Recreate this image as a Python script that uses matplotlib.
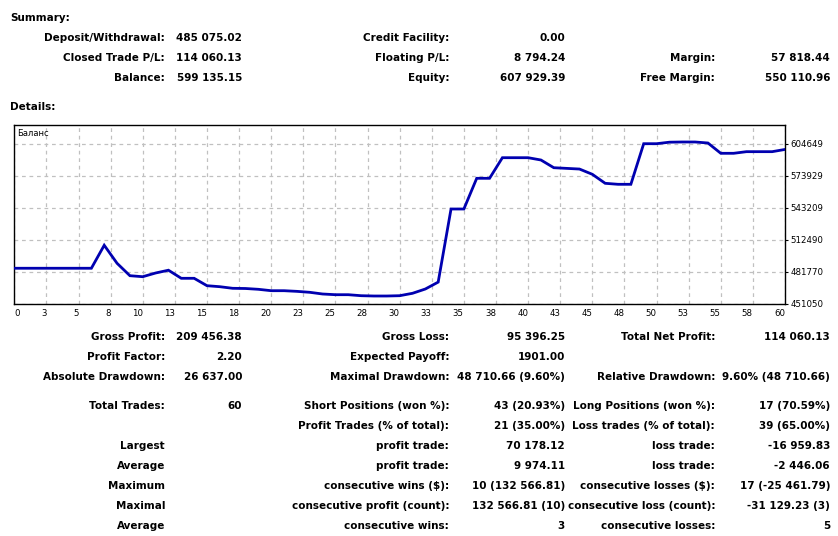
import numpy as np
import matplotlib.pyplot as plt
from matplotlib.ticker import FixedLocator, FixedFormatter

# balance after each closed trade (trade 0 = starting deposit)
balance = [485075, 485075, 485075, 485075, 485075, 485075, 485075, 507149,
           489840, 477930, 476970, 480520, 483200, 475430, 475430, 468330,
           467370, 465830, 465640, 464870, 463530, 463530, 462900, 461990,
           460360, 459690, 459690, 458730, 458438, 458438, 458730, 461030,
           465160, 471782, 541960, 541960, 571430, 571430, 591210, 591210,
           591210, 589000, 581600, 580960, 580320, 575270, 566630, 565670,
           565670, 604650, 604650, 606090, 606290, 606290, 605320, 595430,
           595430, 597000, 597000, 597000, 599135]

y_ticks = [451050, 481770, 512490, 543209, 573929, 604649]
x_grid = list(np.arange(0, 60.1, 2.5))
x_labels = ['0', '3', '5', '8', '10', '13', '15', '18', '20', '23', '25', '28',
            '30', '33', '35', '38', '40', '43', '45', '48', '50', '53', '55',
            '58', '60']

summary_rows = [
    ('Deposit/Withdrawal:', '485 075.02', 'Credit Facility:', '0.00', '', ''),
    ('Closed Trade P/L:', '114 060.13', 'Floating P/L:', '8 794.24', 'Margin:', '57 818.44'),
    ('Balance:', '599 135.15', 'Equity:', '607 929.39', 'Free Margin:', '550 110.96'),
]
detail_rows = [
    ('Gross Profit:', '209 456.38', 'Gross Loss:', '95 396.25', 'Total Net Profit:', '114 060.13'),
    ('Profit Factor:', '2.20', 'Expected Payoff:', '1901.00', '', ''),
    ('Absolute Drawdown:', '26 637.00', 'Maximal Drawdown:', '48 710.66 (9.60%)',
     'Relative Drawdown:', '9.60% (48 710.66)'),
    ('Total Trades:', '60', 'Short Positions (won %):', '43 (20.93%)',
     'Long Positions (won %):', '17 (70.59%)'),
    ('', '', 'Profit Trades (% of total):', '21 (35.00%)',
     'Loss trades (% of total):', '39 (65.00%)'),
    ('Largest', '', 'profit trade:', '70 178.12', 'loss trade:', '-16 959.83'),
    ('Average', '', 'profit trade:', '9 974.11', 'loss trade:', '-2 446.06'),
    ('Maximum', '', 'consecutive wins ($):', '10 (132 566.81)',
     'consecutive losses ($):', '17 (-25 461.79)'),
    ('Maximal', '', 'consecutive profit (count):', '132 566.81 (10)',
     'consecutive loss (count):', '-31 129.23 (3)'),
    ('Average', '', 'consecutive wins:', '3', 'consecutive losses:', '5'),
]

W, H = 838, 536
plt.rcParams['font.family'] = 'DejaVu Sans'
fig = plt.figure(figsize=(W / 100, H / 100), dpi=100)
fig.patch.set_facecolor('white')


def put(x, y, s, ha='right', bold=True, size=7.5):
    fig.text(x / W, 1 - y / H, s, ha=ha, va='center', size=size,
             weight='bold' if bold else 'normal', color='black')


col_x = [165, 242, 449, 565, 715, 830]

put(10, 18, 'Summary:', ha='left')
for row, y in zip(summary_rows, [38, 58, 78]):
    for s, x in zip(row, col_x):
        if s:
            put(x, y, s)

put(10, 107, 'Details:', ha='left')
for row, y in zip(detail_rows, [337, 357, 377, 406, 426, 446, 466, 486, 506, 526]):
    for s, x in zip(row, col_x):
        if s:
            put(x, y, s)

# balance chart
left, right, top, bottom = 14.3, 785, 125.3, 303.7
ax = fig.add_axes([left / W, 1 - bottom / H, (right - left) / W, (bottom - top) / H])
trades = np.arange(len(balance))
ax.plot(trades, balance, color='#0000B0', lw=2, solid_joinstyle='miter', zorder=3)
ax.set_xlim(0, 60)
step = y_ticks[1] - y_ticks[0]
ax.set_ylim(y_ticks[0], y_ticks[0] + step * (bottom - top) / 32.0)

ax.xaxis.set_major_locator(FixedLocator(x_grid))
ax.xaxis.set_major_formatter(FixedFormatter(x_labels))
ax.yaxis.set_major_locator(FixedLocator(y_ticks))
ax.yaxis.set_major_formatter(FixedFormatter([str(v) for v in y_ticks]))
ax.yaxis.tick_right()
ax.tick_params(axis='x', length=0, pad=4, labelsize=6.2)
ax.tick_params(axis='y', length=2, width=0.8, pad=2, labelsize=6.2)
for i, lab in enumerate(ax.get_xticklabels()):
    lab.set_ha('left' if i == 0 else 'right')
ax.grid(True, color='#C0C0C0', ls=(0, (3, 3)), lw=0.9, zorder=1)
for sp in ax.spines.values():
    sp.set_linewidth(1.0)
    sp.set_color('black')
ax.text(0.004, 0.955, 'Баланс', transform=ax.transAxes, ha='left', va='center',
        size=6.0)

fig.savefig('out.png', dpi=100)
plt.close(fig)
